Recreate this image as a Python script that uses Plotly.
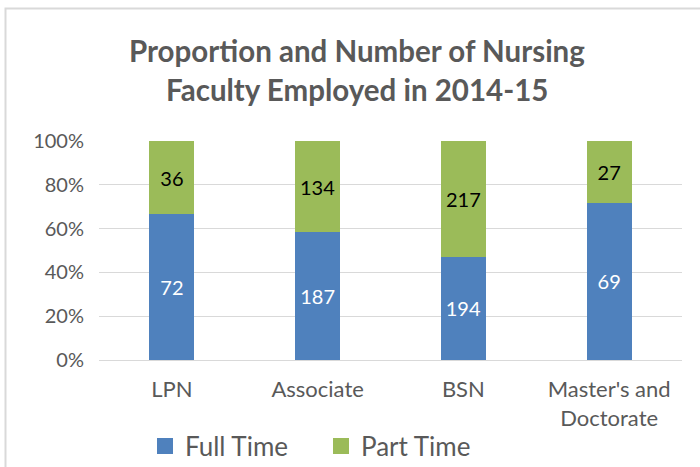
import plotly.graph_objects as go

categories = ["LPN", "Associate", "BSN", "Master's and<br>Doctorate"]
full_time = [72, 187, 194, 69]
part_time = [36, 134, 217, 27]
series_names = ["Full Time", "Part Time"]
y_ticks = [0, 20, 40, 60, 80, 100]
y_tick_labels = ["0%", "20%", "40%", "60%", "80%", "100%"]
title_lines = ["Proportion and Number of Nursing", "Faculty Employed in 2014-15"]

FONT = "Lato"
GRAY = "#595959"
BLUE = "#4F81BD"
GREEN = "#9BBB59"

W, H = 700, 467
L, R, T, B = 99, 682, 141, 360  # plot area in pixels


def py(y):
    return (B - y) / (B - T)


def px(x):
    return (x - L) / (R - L)


fig = go.Figure()
fig.add_trace(go.Bar(
    x=categories, y=full_time, name=series_names[0], showlegend=False,
    marker=dict(color=BLUE, line=dict(width=0)),
    text=full_time, textposition="inside", insidetextanchor="middle",
    textfont=dict(color="white", size=20, family=FONT),
))
fig.add_trace(go.Bar(
    x=categories, y=part_time, name=series_names[1], showlegend=False,
    marker=dict(color=GREEN, line=dict(width=0)),
    text=part_time, textposition="inside", insidetextanchor="middle",
    textfont=dict(color="black", size=20, family=FONT),
))
# legend entries (square swatches)
for name, col in zip(series_names, [BLUE, GREEN]):
    fig.add_trace(go.Scatter(
        x=[None], y=[None], mode="markers", name=name,
        marker=dict(symbol="square", size=16, color=col),
    ))

annotations = []
for line, ycen in zip(title_lines, [50, 89.5]):
    annotations.append(dict(
        text="<b>%s</b>" % line, xref="paper", yref="paper",
        x=px(357), y=py(ycen), xanchor="center", yanchor="middle",
        showarrow=False, font=dict(size=29.5, color=GRAY, family=FONT),
    ))

fig.update_layout(
    width=W, height=H,
    barmode="stack", barnorm="percent", bargap=0.69,
    paper_bgcolor="white", plot_bgcolor="white",
    margin=dict(l=L, r=W - R, t=T, b=H - B, autoexpand=False),
    font=dict(family=FONT, color=GRAY),
    xaxis=dict(
        tickfont=dict(size=22, color=GRAY), showgrid=False,
        showline=True, linecolor="#D9D9D9", linewidth=1, ticks="",
        automargin=False, ticklabelstandoff=10,
    ),
    yaxis=dict(
        range=[0, 100], tickvals=y_ticks, ticktext=y_tick_labels,
        tickfont=dict(size=20, color=GRAY), gridcolor="#D9D9D9",
        showline=False, zeroline=False, ticks="", ticklabelstandoff=14,
        automargin=False,
    ),
    legend=dict(
        orientation="h", x=px(145), xanchor="left", y=py(446), yanchor="middle",
        font=dict(size=26, color=GRAY), itemsizing="trace",
        traceorder="normal", entrywidth=131, entrywidthmode="pixels",
        bgcolor="rgba(0,0,0,0)",
    ),
    annotations=annotations,
    shapes=[dict(
        type="rect", xref="paper", yref="paper",
        x0=px(5.5), x1=px(720), y0=py(490), y1=py(8.5),
        line=dict(color="#D9D9D9", width=2), fillcolor="rgba(0,0,0,0)",
        layer="below",
    )],
)

fig.write_html(
    "out.html",
    config={"displayModeBar": False},
    post_script="document.body.style.margin='0';document.body.style.overflow='hidden';",
)
